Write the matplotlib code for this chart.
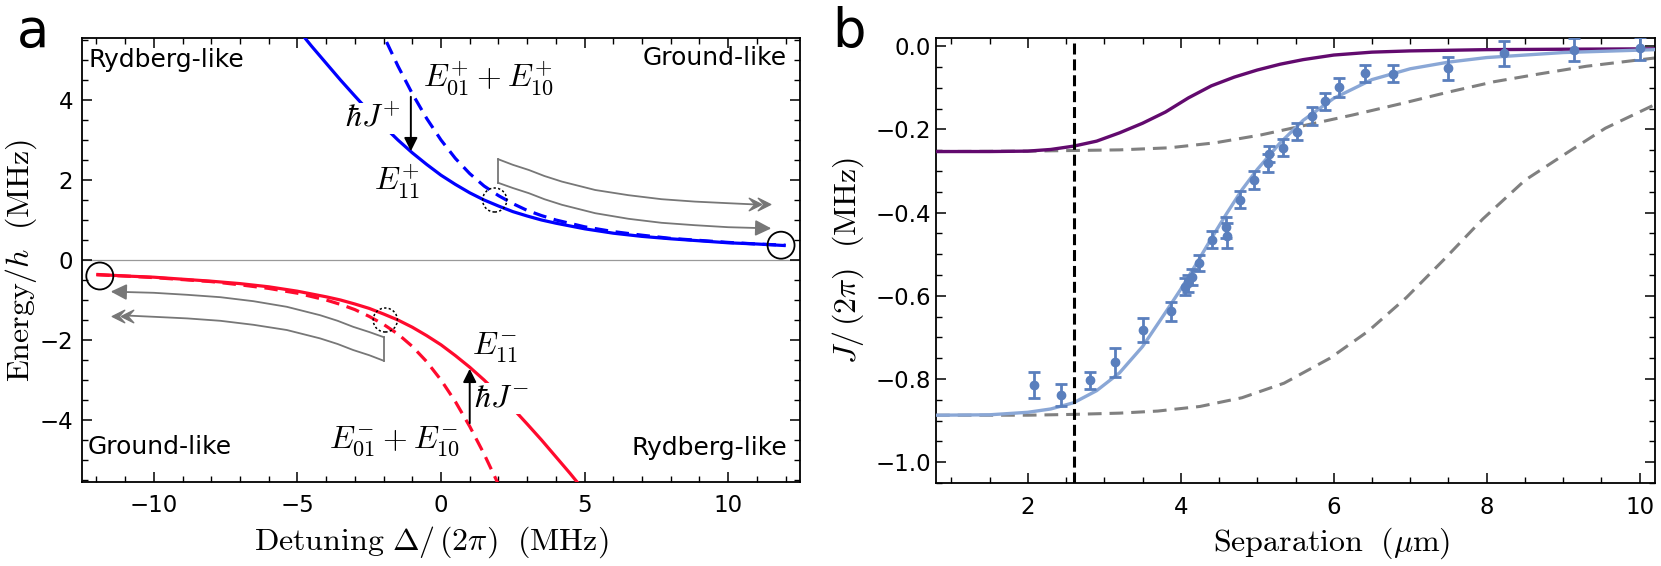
import matplotlib
matplotlib.use("Agg")
import matplotlib.pyplot as plt
from matplotlib.patches import Ellipse
from matplotlib.path import Path
from matplotlib.ticker import MultipleLocator, FuncFormatter

plt.rcParams['font.family'] = ['DejaVu Sans']
plt.rcParams['mathtext.fontset'] = 'cm'

# ---------------- panel a data ----------------
det_E11_plus = [-5, -4.5, -4, -3.5, -3, -2.5, -2, -1.5, -1, -0.5, 0, 0.5, 1, 1.5, 2, 2.5, 3, 3.5, 4,
                5, 6, 7, 8, 9, 10, 11, 12]
E11_plus = [5.78, 5.34, 4.92, 4.50, 4.10, 3.71, 3.35, 3.00, 2.68, 2.39, 2.12, 1.89, 1.68, 1.50, 1.35, 1.21, 1.10, 1.00, 0.92,
            0.78, 0.67, 0.59, 0.53, 0.48, 0.43, 0.40, 0.36]
det_Esum_plus = [-2.5, -2, -1.5, -1, -0.5, 0, 0.5, 1, 1.5, 2, 2.5, 3, 3.5, 4,
                 5, 6, 7, 8, 9, 10, 11, 12]
Esum_plus = [6.41, 5.61, 4.85, 4.16, 3.54, 3.00, 2.54, 2.16, 1.85, 1.61, 1.41, 1.24, 1.11, 1.00,
             0.83, 0.71, 0.62, 0.54, 0.49, 0.44, 0.40, 0.37]
det_E11_minus = [-12, -11, -10, -9, -8, -7, -6, -5, -4,
                 -3.5, -3, -2.5, -2, -1.5, -1, -0.5, 0, 0.5, 1, 1.5, 2, 2.5, 3, 3.5, 4, 4.5, 5]
E11_minus = [-0.36, -0.40, -0.43, -0.48, -0.53, -0.59, -0.67, -0.78, -0.92,
             -1.00, -1.10, -1.21, -1.35, -1.50, -1.68, -1.89, -2.12, -2.39, -2.68, -3.00, -3.35, -3.71, -4.10,
             -4.50, -4.92, -5.34, -5.78]
det_Esum_minus = [-12, -11, -10, -9, -8, -7, -6, -5, -4,
                  -3.5, -3, -2.5, -2, -1.5, -1, -0.5, 0, 0.5, 1, 1.5, 2, 2.5]
Esum_minus = [-0.37, -0.40, -0.44, -0.49, -0.54, -0.62, -0.71, -0.83, -1.00,
              -1.11, -1.24, -1.41, -1.61, -1.85, -2.16, -2.54, -3.00, -3.54, -4.16, -4.85, -5.61, -6.41]

# gray sweep arrows (upper right)
sweepR_top_x = [1.99, 2.5, 3.06, 3.6, 4.21, 5.37, 6.53, 7.68, 8.84, 10.0, 10.9]
sweepR_top_y = [2.52, 2.38, 2.25, 2.10, 1.96, 1.75, 1.62, 1.52, 1.46, 1.42, 1.39]
sweepR_bot_x = [1.99, 2.5, 3.06, 3.6, 4.21, 5.37, 6.53, 7.68, 8.84, 10.0, 11.0, 11.5]
sweepR_bot_y = [1.93, 1.80, 1.67, 1.52, 1.38, 1.17, 1.03, 0.93, 0.87, 0.82, 0.80, 0.79]
# gray sweep arrows (lower left)
sweepL_top_x = [-1.99, -2.5, -3.06, -3.6, -4.21, -5.37, -6.53, -7.68, -8.84, -10.0, -11.0, -11.5]
sweepL_top_y = [-1.93, -1.80, -1.67, -1.52, -1.38, -1.17, -1.03, -0.93, -0.87, -0.82, -0.80, -0.79]
sweepL_bot_x = [-1.99, -2.5, -3.06, -3.6, -4.21, -5.37, -6.53, -7.68, -8.84, -10.0, -10.9]
sweepL_bot_y = [-2.52, -2.38, -2.25, -2.10, -1.96, -1.75, -1.62, -1.52, -1.46, -1.42, -1.39]

# ---------------- panel b data ----------------
sep_purple = [0.8, 1.5, 2.0, 2.3, 2.6, 2.9, 3.2, 3.5, 3.8, 4.1, 4.4, 4.7, 5.0, 5.3, 5.6, 6.0, 6.5, 7.0, 8.0, 9.0, 10.2]
J_purple = [-0.253, -0.253, -0.252, -0.248, -0.240, -0.228, -0.208, -0.185, -0.158, -0.124, -0.095, -0.074, -0.057,
            -0.043, -0.032, -0.021, -0.014, -0.011, -0.008, -0.007, -0.006]
sep_gray1 = [0.8, 2.0, 3.2, 3.85, 4.45, 5.05, 5.65, 6.25, 6.9, 7.5, 8.1, 8.7, 9.3, 10.2]
J_gray1 = [-0.253, -0.252, -0.249, -0.244, -0.232, -0.213, -0.189, -0.165, -0.137, -0.110, -0.085, -0.066, -0.048, -0.028]
sep_gray2 = [0.8, 2.0, 2.6, 3.2, 3.7, 4.25, 4.8, 5.35, 5.95, 6.45, 6.95, 7.45, 7.95, 8.5, 9.1, 9.55, 10.2]
J_gray2 = [-0.887, -0.887, -0.885, -0.882, -0.877, -0.866, -0.845, -0.810, -0.750, -0.685, -0.604, -0.511, -0.415,
           -0.322, -0.250, -0.197, -0.140]
sep_fit = [0.8, 1.5, 2.0, 2.3, 2.6, 2.9, 3.2, 3.5, 3.8, 4.0, 4.2, 4.4, 4.6, 4.8, 5.0, 5.3, 5.6, 6.0, 6.5, 7.0, 7.5,
           8.0, 9.0, 10.2]
J_fit = [-0.887, -0.886, -0.880, -0.872, -0.857, -0.828, -0.785, -0.722, -0.640, -0.584, -0.524, -0.462, -0.402,
         -0.345, -0.296, -0.232, -0.178, -0.125, -0.080, -0.054, -0.038, -0.027, -0.015, -0.008]
sep_data = [2.08, 2.44, 2.81, 3.14, 3.50, 3.87, 4.05, 4.09, 4.15, 4.24, 4.41, 4.59, 4.60, 4.78, 4.96, 5.14, 5.15,
            5.34, 5.52, 5.71, 5.89, 6.07, 6.41, 6.78, 7.50, 8.23, 9.14, 10.0]
J_data = [-0.815, -0.838, -0.803, -0.760, -0.682, -0.637, -0.578, -0.570, -0.555, -0.521, -0.465, -0.435, -0.455,
          -0.369, -0.321, -0.281, -0.259, -0.244, -0.205, -0.167, -0.132, -0.099, -0.065, -0.066, -0.053, -0.017,
          -0.008, -0.005]
J_err = [0.031, 0.026, 0.021, 0.034, 0.028, 0.023, 0.020, 0.020, 0.020, 0.020, 0.020, 0.025, 0.030, 0.020, 0.022,
         0.022, 0.020, 0.020, 0.020, 0.022, 0.020, 0.022, 0.020, 0.020, 0.028, 0.030, 0.028, 0.028]
blockade_sep = 2.6

# ---------------- figure ----------------
W, H = 1661, 566
fig = plt.figure(figsize=(W / 100, H / 100), dpi=100)
axA = fig.add_axes([82 / W, 1 - 482 / H, 718 / W, 444 / H])
axB = fig.add_axes([936 / W, 1 - 483 / H, 719 / W, 445 / H])

BLUE = '#0000ff'
RED = '#ff0a2d'
GRAY = '#808080'
ARROWGRAY = '#777777'

def style_axes(ax, pad):
    for s in ax.spines.values():
        s.set_linewidth(1.3)
    ax.tick_params(which='both', direction='in', top=True, right=True, labelsize=16.5, pad=pad)
    ax.tick_params(which='major', length=7, width=1.1)
    ax.tick_params(which='minor', length=4.2, width=1.0)

# ---- panel a ----
ax = axA
ax.axhline(0, color='#999999', lw=0.9, zorder=1)
ax.plot(det_E11_plus, E11_plus, color=BLUE, lw=2.3, solid_capstyle='butt', zorder=3)
ax.plot(det_Esum_plus, Esum_plus, color=BLUE, lw=2.3, dashes=(4.2, 2.4), zorder=3)
ax.plot(det_E11_minus, E11_minus, color=RED, lw=2.3, solid_capstyle='butt', zorder=3)
ax.plot(det_Esum_minus, Esum_minus, color=RED, lw=2.3, dashes=(4.2, 2.4), zorder=3)

# gray sweep arrows
for xs, ys in [(sweepR_top_x, sweepR_top_y), (sweepL_bot_x, sweepL_bot_y)]:
    ax.plot(xs, ys, color=ARROWGRAY, lw=1.3, zorder=2)
for xs, ys in [(sweepR_bot_x, sweepR_bot_y), (sweepL_top_x, sweepL_top_y)]:
    ax.plot(xs[:-1], ys[:-1], color=ARROWGRAY, lw=1.3, zorder=2)
    ax.annotate('', xy=(xs[-1], ys[-1]), xytext=(xs[-2], ys[-2]),
                arrowprops=dict(arrowstyle='-|>', color=ARROWGRAY, lw=1.3, mutation_scale=24,
                                shrinkA=0, shrinkB=0), zorder=2)
ax.plot([sweepR_top_x[0], sweepR_bot_x[0]], [sweepR_top_y[0], sweepR_bot_y[0]], color=ARROWGRAY, lw=1.3, zorder=2)
ax.plot([sweepL_top_x[0], sweepL_bot_x[0]], [sweepL_top_y[0], sweepL_bot_y[0]], color=ARROWGRAY, lw=1.3, zorder=2)

# fletching (tail feathers) at the end of the other line
chev_r = Path([(-0.5, 0.5), (0.5, 0.0), (-0.5, -0.5), (-0.05, 0.0), (-0.5, 0.5)],
              [Path.MOVETO, Path.LINETO, Path.LINETO, Path.LINETO, Path.CLOSEPOLY])
chev_l = Path([(0.5, 0.5), (-0.5, 0.0), (0.5, -0.5), (0.05, 0.0), (0.5, 0.5)],
              [Path.MOVETO, Path.LINETO, Path.LINETO, Path.LINETO, Path.CLOSEPOLY])
ax.plot([sweepR_top_x[-1] + 0.05, sweepR_top_x[-1] + 0.33], [sweepR_top_y[-1]] * 2, ls='none',
        marker=chev_r, ms=9, color=ARROWGRAY, mec=ARROWGRAY, zorder=2)
ax.plot([sweepL_bot_x[-1] - 0.05, sweepL_bot_x[-1] - 0.33], [sweepL_bot_y[-1]] * 2, ls='none',
        marker=chev_l, ms=9, color=ARROWGRAY, mec=ARROWGRAY, zorder=2)

# circles
ax.add_patch(Ellipse((det_E11_plus[-1] - 0.16, E11_plus[-1] + 0.01), 0.94, 0.675, fill=False, ec='k', lw=1.3, zorder=4))
ax.add_patch(Ellipse((det_E11_minus[0] + 0.12, E11_minus[0] - 0.04), 0.94, 0.675, fill=False, ec='k', lw=1.3, zorder=4))
ax.add_patch(Ellipse((1.87, 1.5), 0.84, 0.6, fill=False, ec='k', lw=1.1, ls=(0, (1.5, 1.5)), zorder=4))
ax.add_patch(Ellipse((-1.94, -1.5), 0.84, 0.6, fill=False, ec='k', lw=1.1, ls=(0, (1.5, 1.5)), zorder=4))

# arrows for J
ax.annotate('', xy=(-1.05, 2.72), xytext=(-1.05, 4.08),
            arrowprops=dict(arrowstyle='-|>', color='k', lw=1.4, mutation_scale=20, shrinkA=0, shrinkB=0), zorder=5)
ax.annotate('', xy=(1.0, -2.72), xytext=(1.0, -4.08),
            arrowprops=dict(arrowstyle='-|>', color='k', lw=1.4, mutation_scale=20, shrinkA=0, shrinkB=0), zorder=5)

mfs = 23
ax.text(1.67, 4.55, r'$E_{01}^{+}+E_{10}^{+}$', fontsize=mfs, ha='center', va='center', zorder=6)
ax.text(-2.36, 3.55, r'$\hbar J^{+}$', fontsize=mfs, ha='center', va='center', zorder=6,
        bbox=dict(fc='white', ec='none', pad=0))
ax.text(-1.53, 1.95, r'$E_{11}^{+}$', fontsize=mfs, ha='center', va='center', zorder=6)
ax.text(2.1, -3.45, r'$\hbar J^{-}$', fontsize=mfs, ha='center', va='center', zorder=6,
        bbox=dict(fc='white', ec='none', pad=0))
ax.text(1.9, -2.2, r'$E_{11}^{-}$', fontsize=mfs, ha='center', va='center', zorder=6)
ax.text(-1.63, -4.53, r'$E_{01}^{-}+E_{10}^{-}$', fontsize=mfs, ha='center', va='center', zorder=6)

tfs = 18
ax.text(0.0097, 0.950, 'Rydberg-like', transform=ax.transAxes, fontsize=tfs, ha='left', va='center')
ax.text(0.982, 0.955, 'Ground-like', transform=ax.transAxes, fontsize=tfs, ha='right', va='center')
ax.text(0.008, 0.079, 'Ground-like', transform=ax.transAxes, fontsize=tfs, ha='left', va='center')
ax.text(0.982, 0.077, 'Rydberg-like', transform=ax.transAxes, fontsize=tfs, ha='right', va='center')

ax.set_xlim(-12.5, 12.5)
ax.set_ylim(-5.55, 5.55)
ax.xaxis.set_major_locator(MultipleLocator(5))
ax.xaxis.set_minor_locator(MultipleLocator(1))
ax.yaxis.set_major_locator(MultipleLocator(2))
ax.yaxis.set_minor_locator(MultipleLocator(0.5))
style_axes(ax, 6.5)
ax.tick_params(axis='x', pad=9)
ax.text(0.487, -0.135, r'$\mathrm{Detuning}\ \Delta/\,(2\pi)\ \ (\mathrm{MHz})$', transform=ax.transAxes,
        fontsize=23, ha='center', va='center')
ax.text(-0.085, 0.5, r'$\mathrm{Energy}/h\ \ (\mathrm{MHz})$', transform=ax.transAxes,
        fontsize=23, ha='center', va='center', rotation=90)

# ---- panel b ----
ax = axB
ax.plot(sep_gray1, J_gray1, color=GRAY, lw=2.2, dashes=(4.5, 2.6), zorder=2)
ax.plot(sep_gray2, J_gray2, color=GRAY, lw=2.2, dashes=(4.5, 2.6), zorder=2)
ax.plot(sep_purple, J_purple, color='#620a6e', lw=2.4, zorder=3)
ax.plot(sep_fit, J_fit, color='#8aa7d6', lw=2.4, zorder=3)
ax.errorbar(sep_data, J_data, yerr=J_err, fmt='o', ms=6, color='#5a7fbd', ecolor='#5a7fbd',
            elinewidth=2.0, capsize=4, capthick=2.0, zorder=4)
ax.axvline(blockade_sep, color='k', lw=2.2, dashes=(3.6, 1.6), zorder=5)
ax.set_xlim(0.8, 10.2)
ax.set_ylim(-1.05, 0.02)
ax.xaxis.set_major_locator(MultipleLocator(2))
ax.xaxis.set_minor_locator(MultipleLocator(0.5))
ax.yaxis.set_major_locator(MultipleLocator(0.2))
ax.yaxis.set_minor_locator(MultipleLocator(0.05))

def fmt_b(v, pos):
    s = '%.1f' % v
    if s == '-0.0':
        s = '0.0'
    return s.replace('-', '\u2212')
ax.yaxis.set_major_formatter(FuncFormatter(fmt_b))
style_axes(ax, 3.5)
ax.tick_params(axis='x', pad=9)
ax.text(0.551, -0.135, r'$\mathrm{Separation}\ \ (\mu\mathrm{m})$', transform=ax.transAxes,
        fontsize=23, ha='center', va='center')
ax.text(-0.122, 0.5, r'$J/\,(2\pi)\ \ (\mathrm{MHz})$', transform=ax.transAxes,
        fontsize=23, ha='center', va='center', rotation=90)

fig.text(17 / W, 1 - 47 / H, 'a', fontsize=38, ha='left', va='baseline')
fig.text(832 / W, 1 - 47 / H, 'b', fontsize=38, ha='left', va='baseline')

fig.savefig('out.png', dpi=100)
